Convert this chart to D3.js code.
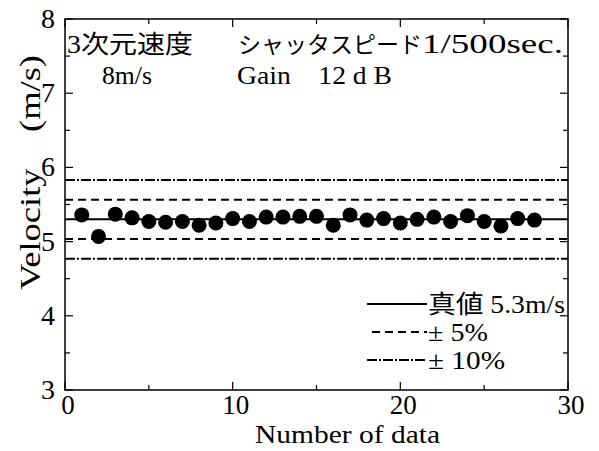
<!DOCTYPE html>
<html>
<head>
<meta charset="utf-8">
<script src="https://cdn.jsdelivr.net/npm/d3@7"></script>
<style>
  html, body { margin: 0; padding: 0; background: #fff; }
  svg { display: block; }
  text { font-family: "Liberation Serif", "Noto Sans CJK JP", serif; fill: #000; }
</style>
</head>
<body>
<svg id="chart" width="599" height="451"></svg>
<script>
// Measured velocity for each sample
const sampleIndex = [1,2,3,4,5,6,7,8,9,10,11,12,13,14,15,16,17,18,19,20,21,22,23,24,25,26,27,28];
const velocity = [5.36,5.07,5.37,5.32,5.27,5.26,5.27,5.22,5.25,5.31,5.27,5.33,5.33,5.34,5.34,5.22,5.36,5.29,5.31,5.25,5.30,5.33,5.27,5.35,5.27,5.21,5.31,5.29];

// Reference value and tolerance bands
const trueValue = 5.3;
const bandLevels = [
  { value: trueValue * 1.05, style: "dash" },
  { value: trueValue * 0.95, style: "dash" },
  { value: trueValue * 1.10, style: "dashdot" },
  { value: trueValue * 0.90, style: "dashdot" }
];

const xTicks = [0, 10, 20, 30];
const yTicks = [3, 4, 5, 6, 7, 8];
const legendItems = [
  { label: "真値 5.3m/s", style: "solid", width: 137 },
  { label: "± 5%", style: "dash", width: 60 },
  { label: "± 10%", style: "dashdot", width: 77 }
];

const dashes = { solid: null, dash: "8,5", dashdot: "10,2,2,2" };

const svg = d3.select("#chart");
const m = { left: 65, right: 568, top: 19, bottom: 390 };

const x = d3.scaleLinear().domain([0, 30]).range([m.left, m.right]);
const y = d3.scaleLinear().domain([3, 8]).range([m.bottom, m.top]);

// Frame
svg.append("rect")
  .attr("x", m.left).attr("y", m.top)
  .attr("width", m.right - m.left).attr("height", m.bottom - m.top)
  .attr("fill", "none").attr("stroke", "#000").attr("stroke-width", 1.5);

// Inward ticks on all four sides
const tickG = svg.append("g").attr("stroke", "#000").attr("stroke-width", 1.2);
const xMinor = d3.range(0, 31, 5);
const yMinor = d3.range(3, 8.01, 0.5);
xMinor.forEach(v => {
  const len = v % 10 === 0 ? 8 : 5;
  tickG.append("line").attr("x1", x(v)).attr("x2", x(v)).attr("y1", m.bottom).attr("y2", m.bottom - len);
  tickG.append("line").attr("x1", x(v)).attr("x2", x(v)).attr("y1", m.top).attr("y2", m.top + len);
});
yMinor.forEach(v => {
  const len = Math.abs(v - Math.round(v)) < 1e-6 ? 8 : 5;
  tickG.append("line").attr("y1", y(v)).attr("y2", y(v)).attr("x1", m.left).attr("x2", m.left + len);
  tickG.append("line").attr("y1", y(v)).attr("y2", y(v)).attr("x1", m.right).attr("x2", m.right - len);
});

// Tick labels
svg.append("g").selectAll("text").data(xTicks).join("text")
  .attr("x", d => x(d) + 3).attr("y", 414)
  .attr("text-anchor", "middle").attr("font-size", 27)
  .text(d => d);
svg.append("g").selectAll("text").data(yTicks).join("text")
  .attr("x", 55).attr("y", d => y(d) + 9)
  .attr("text-anchor", "end").attr("font-size", 28)
  .text(d => d);

// Axis titles
svg.append("text")
  .attr("x", 255).attr("y", 443)
  .attr("font-size", 26)
  .attr("textLength", 185).attr("lengthAdjust", "spacingAndGlyphs")
  .text("Number of data");
svg.append("text")
  .attr("transform", "translate(40,290) rotate(-90)")
  .attr("font-size", 29)
  .attr("xml:space", "preserve")
  .attr("textLength", 235).attr("lengthAdjust", "spacingAndGlyphs")
  .text("Velocity    (m/s)");

// Reference lines
svg.append("line")
  .attr("x1", m.left).attr("x2", m.right)
  .attr("y1", y(trueValue)).attr("y2", y(trueValue))
  .attr("stroke", "#000").attr("stroke-width", 2);
svg.append("g").selectAll("line").data(bandLevels).join("line")
  .attr("x1", m.left).attr("x2", m.right)
  .attr("y1", d => y(d.value)).attr("y2", d => y(d.value))
  .attr("stroke", "#000").attr("stroke-width", 2)
  .attr("stroke-dasharray", d => dashes[d.style]);

// Data points
svg.append("g").selectAll("circle").data(sampleIndex).join("circle")
  .attr("cx", d => x(d)).attr("cy", (d, i) => y(velocity[i]))
  .attr("r", 7.5).attr("fill", "#000");

// Annotations
const note = svg.append("g");
note.append("text").attr("x", 67).attr("y", 53).attr("font-size", 25)
  .attr("textLength", 126).attr("lengthAdjust", "spacingAndGlyphs").text("3次元速度");
note.append("text").attr("x", 102).attr("y", 84).attr("font-size", 26)
  .attr("textLength", 50).attr("lengthAdjust", "spacingAndGlyphs").text("8m/s");
note.append("text").attr("x", 238).attr("y", 53).attr("font-size", 23)
  .attr("textLength", 184).attr("lengthAdjust", "spacing").text("シャッタスピード");
note.append("text").attr("x", 422).attr("y", 53).attr("font-size", 27)
  .attr("textLength", 141).attr("lengthAdjust", "spacingAndGlyphs").text("1/500sec.");
note.append("text").attr("x", 237).attr("y", 84).attr("font-size", 26)
  .attr("xml:space", "preserve")
  .attr("textLength", 155).attr("lengthAdjust", "spacingAndGlyphs").text("Gain    12 d B");

// Legend
const leg = svg.append("g");
legendItems.forEach((d, i) => {
  const ly = 304 + i * 28;
  leg.append("line")
    .attr("x1", d.style === "dash" ? 372 : 367).attr("x2", 427)
    .attr("y1", ly).attr("y2", ly)
    .attr("stroke", "#000").attr("stroke-width", 2)
    .attr("stroke-dasharray", dashes[d.style]);
  leg.append("text")
    .attr("x", 428).attr("y", ly + 9)
    .attr("font-size", 25)
    .attr("textLength", d.width).attr("lengthAdjust", "spacingAndGlyphs")
    .text(d.label);
});
</script>
</body>
</html>
